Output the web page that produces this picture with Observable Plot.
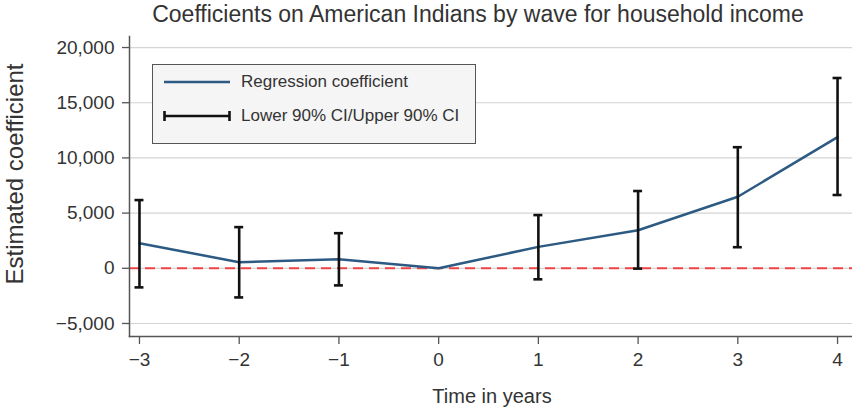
<!DOCTYPE html>
<html>
<head>
<meta charset="utf-8">
<script src="https://cdn.jsdelivr.net/npm/d3@7"></script>
<script src="https://cdn.jsdelivr.net/npm/@observablehq/plot@0.6"></script>
<style>
  html, body { margin: 0; padding: 0; background: #fff; }
  body { font-family: "Liberation Sans", Arial, sans-serif; color: #333; }
  #wrap { position: relative; width: 852px; height: 409px; overflow: hidden; }
  #title { position: absolute; left: 0; top: 0; width: 956px; height: 30px; text-align: center;
           font-size: 23px; line-height: 28px; color: #333; }
  #chart { position: absolute; left: 0; top: 30px; }
  #ylabel { position: absolute; left: 15px; top: 174px; transform: translate(-50%, -50%) rotate(-90deg);
            white-space: nowrap; font-size: 24px; color: #333; }
  #xlabel { position: absolute; left: 492px; top: 396px; transform: translate(-50%, -50%);
            white-space: nowrap; font-size: 20px; color: #333; }
  #legend { position: absolute; left: 152px; top: 64px; width: 324px; height: 80px; box-sizing: border-box;
            background: #f5f5f5; border: 1.5px solid #555; font-size: 17px; color: #333; }
  .row { position: absolute; left: 10px; height: 20px; display: flex; align-items: center; }
  .row span { margin-left: 10px; }
</style>
</head>
<body>
<div id="wrap">
  <div id="title">Coefficients on American Indians by wave for household income</div>
  <div id="chart"></div>
  <div id="ylabel">Estimated coefficient</div>
  <div id="xlabel">Time in years</div>
  <div id="legend">
    <div class="row" style="top:7px"><svg width="68" height="10"><line x1="1" y1="5" x2="67" y2="5" stroke="#2c5a82" stroke-width="2.5"/></svg><span>Regression coefficient</span></div>
    <div class="row" style="top:41px"><svg width="68" height="12"><line x1="1.5" y1="6" x2="66.5" y2="6" stroke="#111" stroke-width="2.6"/><line x1="1.5" y1="1" x2="1.5" y2="11" stroke="#111" stroke-width="2.6"/><line x1="66.5" y1="1" x2="66.5" y2="11" stroke="#111" stroke-width="2.6"/></svg><span>Lower 90% CI/Upper 90% CI</span></div>
  </div>
</div>
<script>
// Data
const years = [-3, -2, -1, 0, 1, 2, 3, 4];
const coef  = [2270, 550, 820, 0, 1940, 3450, 6480, 11880];
const lower = [-1730, -2640, -1550, null, -1000, -30, 1910, 6640];
const upper = [6180, 3730, 3180, null, 4820, 7000, 10970, 17240];
const yTicks = [-5000, 0, 5000, 10000, 15000, 20000];
const xTicks = [-3, -2, -1, 0, 1, 2, 3, 4];
const xDomain = [-3.1, 4.15];
const yDomain = [-6180, 21000];
const capHalf = 0.045; // half-width of the CI caps, in years

const rows = years.map((t, i) => ({t, coef: coef[i], lo: lower[i], hi: upper[i]}));
const ci = rows.filter(d => d.lo != null);

const fmt = d3.format(",");
const minusFmt = d => (d < 0 ? "\u2212" : "") + fmt(Math.abs(d));

const chart = Plot.plot({
  width: 852,
  height: 379,
  marginLeft: 129,
  marginRight: 0,
  marginTop: 6,
  marginBottom: 73,
  style: {fontFamily: "'Liberation Sans', Arial, sans-serif", fontSize: "19px", color: "#333", background: "transparent"},
  x: {domain: xDomain},
  y: {domain: yDomain},
  marks: [
    Plot.gridY(yTicks, {stroke: "#d4d4d4", strokeOpacity: 1, strokeWidth: 1.2}),
    Plot.ruleY([0], {stroke: "#ee4444", strokeWidth: 2, strokeDasharray: "10,6"}),
    Plot.axisY(yTicks, {tickSize: 7, tickPadding: 8, fontSize: 19, tickFormat: minusFmt, stroke: "#555", strokeWidth: 1.3, label: null}),
    Plot.axisX(xTicks, {tickSize: 8, tickPadding: 8, fontSize: 19, tickFormat: minusFmt, stroke: "#555", strokeWidth: 1.3, label: null}),
    Plot.frame({anchor: "left", stroke: "#555", strokeWidth: 1.5}),
    Plot.frame({anchor: "bottom", stroke: "#555", strokeWidth: 1.5}),
    Plot.line(rows, {x: "t", y: "coef", stroke: "#2c5a82", strokeWidth: 2.5}),
    Plot.ruleX(ci, {x: "t", y1: "lo", y2: "hi", stroke: "#111", strokeWidth: 2.6}),
    Plot.ruleY(ci, {x1: d => d.t - capHalf, x2: d => d.t + capHalf, y: "lo", stroke: "#111", strokeWidth: 2.6}),
    Plot.ruleY(ci, {x1: d => d.t - capHalf, x2: d => d.t + capHalf, y: "hi", stroke: "#111", strokeWidth: 2.6})
  ]
});
document.getElementById("chart").appendChild(chart);
</script>
</body>
</html>
